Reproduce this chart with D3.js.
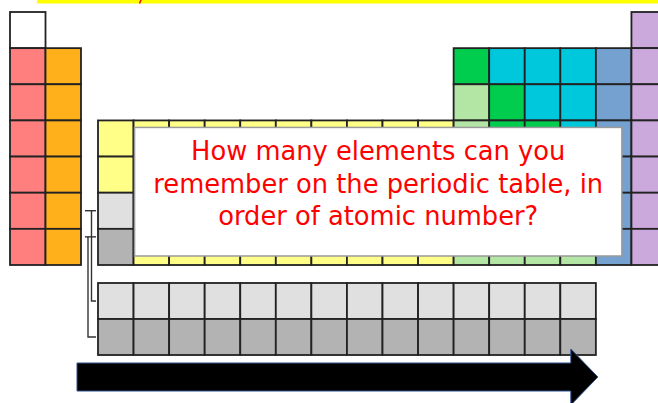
<!DOCTYPE html>
<html>
<head>
<meta charset="utf-8">
<script src="https://cdn.jsdelivr.net/npm/d3@7"></script>
<style>
  html, body { margin: 0; padding: 0; background: #fff; overflow: hidden; }
</style>
</head>
<body>
<svg id="chart" width="658" height="403"></svg>
<script>
// one string per period, one char per group (1..18)
// h hydrogen, a alkali, e alkaline earth, t transition, L/A f-block placeholders,
// p post-transition, m metalloid, n nonmetal, x halogen, g noble gas
const periods = [
  "h----------------g",
  "ae----------mnnnxg",
  "ae----------pmnnxg",
  "aettttttttttpmmnxg",
  "aettttttttttppmmxg",
  "aeLtttttttttppppxg",
  "aeAtttttttttppppxg"
];
const fRows = ["L", "A"];
const fCount = 14;
const colours = {
  h: "#ffffff", a: "#ff7f7f", e: "#ffb01a", t: "#ffff88",
  L: "#e0e0e0", A: "#b3b3b3", p: "#b3e6a5", m: "#00cc4e",
  n: "#00c8dc", x: "#75a1d0", g: "#cca9dd"
};
const question = [
  "How many elements can you",
  "remember on the periodic table, in",
  "order of atomic number?"
];

const svg = d3.select("#chart");

const xs = d3.scaleLinear().domain([1, 3]).range([10, 81]);    // groups 1-2
const xd = d3.scaleLinear().domain([3, 19]).range([98, 667]);  // groups 3-18
const gx = g => g < 3 ? xs(g) : xd(g);
const cw = g => g < 3 ? xs(2) - xs(1) : xd(4) - xd(3);
const y = d3.scaleLinear().domain([1, 8]).range([12, 265]);
const yf = d3.scaleLinear().domain([0, 2]).range([283, 355]);

// banner strip at top
svg.append("rect").attr("x", 37).attr("y", 0).attr("width", 621).attr("height", 3.5)
  .attr("fill", "#ffff00");
svg.append("line").attr("x1", 141).attr("y1", 0).attr("x2", 139.5).attr("y2", 3.5)
  .attr("stroke", "#ff0000").attr("stroke-width", 1.5);

const cells = [];
periods.forEach((row, i) => {
  row.split("").forEach((c, j) => {
    if (c !== "-") cells.push({ period: i + 1, group: j + 1, cat: c });
  });
});

svg.append("g").selectAll("rect")
  .data(cells)
  .join("rect")
    .attr("x", d => gx(d.group))
    .attr("y", d => y(d.period))
    .attr("width", d => cw(d.group))
    .attr("height", y(2) - y(1))
    .attr("fill", d => colours[d.cat])
    .attr("stroke", "#222")
    .attr("stroke-width", 1.8);

// question box
const bx0 = xd(4) + 1, bx1 = xd(17) + 26, by0 = y(4) + 7, by1 = y(8) - 9;
svg.append("rect")
  .attr("x", bx0).attr("y", by0)
  .attr("width", bx1 - bx0).attr("height", by1 - by0)
  .attr("fill", "#fff")
  .attr("stroke", "#9a9a9a")
  .attr("stroke-width", 1.5);

const txt = svg.append("g")
  .attr("font-family", "'Comic Sans MS', 'DejaVu Sans', sans-serif")
  .attr("fill", "#ff0000")
  .attr("text-anchor", "middle");
const lines = txt.selectAll("text")
  .data(question)
  .join("text")
    .attr("x", (bx0 + bx1) / 2)
    .attr("y", (d, i) => 160 + i * 32.5)
    .attr("font-size", 26)
    .text(d => d);
// fit the long line to the width
const w = lines.nodes()[1].getComputedTextLength();
lines.attr("font-size", Math.min(27, 26 * 450 / w));

// f-block rows
const fcells = [];
fRows.forEach((c, i) => {
  for (let k = 0; k < fCount; k++) fcells.push({ row: i, col: k, cat: c });
});
svg.append("g").selectAll("rect")
  .data(fcells)
  .join("rect")
    .attr("x", d => xd(3 + d.col))
    .attr("y", d => yf(d.row))
    .attr("width", xd(4) - xd(3))
    .attr("height", yf(1) - yf(0))
    .attr("fill", d => colours[d.cat])
    .attr("stroke", "#222")
    .attr("stroke-width", 1.8);

// brackets linking placeholders to the f-block rows
const brackets = [
  { from: y(6) + 18, to: yf(0) + 18, x: 91.5 },
  { from: y(7) + 8, to: yf(1) + 18, x: 88 }
];
const bg = svg.append("g").attr("stroke", "#333").attr("stroke-width", 1.4).attr("fill", "none");
brackets.forEach(b => {
  bg.append("line").attr("x1", 85).attr("x2", 96).attr("y1", b.from).attr("y2", b.from);
  bg.append("path").attr("d", `M${b.x},${b.from}V${b.to}H${xd(3) - 2}`);
});

// arrow
const ay0 = yf(2) + 8, ay1 = yf(2) + 36, ah0 = yf(2) - 6, ah1 = yf(2) + 50;
const ax0 = 77, ax1 = xd(16) + 10.5, atip = xd(17) + 2;
const amid = (ay0 + ay1) / 2;
svg.append("path")
  .attr("d", `M${ax0},${ay0}H${ax1}V${ah0}L${atip},${amid}L${ax1},${ah1}V${ay1}H${ax0}Z`)
  .attr("fill", "#000")
  .attr("stroke", "#2f528f")
  .attr("stroke-width", 1);
</script>
</body>
</html>
